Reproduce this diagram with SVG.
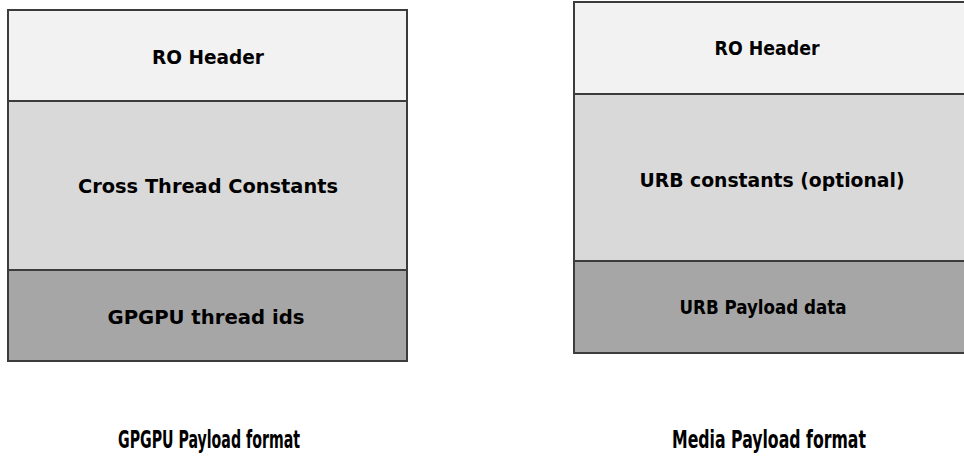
<svg xmlns="http://www.w3.org/2000/svg" width="964" height="458" viewBox="0 0 964 458">
<style>
.box{stroke:#3c3c3c;stroke-width:2}
.l1{fill:#f2f2f2}.l2{fill:#d9d9d9}.l3{fill:#a6a6a6}
.t{font-family:"DejaVu Sans Condensed","Liberation Sans",sans-serif;font-weight:bold;font-size:20px;fill:#000;text-anchor:middle}
.cap{font-family:"DejaVu Sans Condensed","Liberation Sans",sans-serif;font-weight:bold;font-size:24px;fill:#000;text-anchor:middle}
</style>
<g id="gpgpu">
<rect class="box l1" x="8" y="10" width="399" height="91"/>
<rect class="box l2" x="8" y="101" width="399" height="169"/>
<rect class="box l3" x="8" y="270" width="399" height="91"/>
<text class="t" x="208" y="64" textLength="112" lengthAdjust="spacingAndGlyphs">RO Header</text>
<text class="t" x="208" y="193" textLength="260" lengthAdjust="spacingAndGlyphs">Cross Thread Constants</text>
<text class="t" x="206" y="324" textLength="197" lengthAdjust="spacingAndGlyphs">GPGPU thread ids</text>
</g>
<g id="media">
<rect class="box l1" x="574" y="2" width="400" height="92"/>
<rect class="box l2" x="574" y="94" width="400" height="167"/>
<rect class="box l3" x="574" y="261" width="400" height="92"/>
<text class="t" x="767" y="55" textLength="105" lengthAdjust="spacingAndGlyphs">RO Header</text>
<text class="t" x="772" y="187" textLength="265" lengthAdjust="spacingAndGlyphs">URB constants (optional)</text>
<text class="t" x="763" y="314" textLength="167" lengthAdjust="spacingAndGlyphs">URB Payload data</text>
</g>
<g id="connectors"></g>
<text class="cap" x="209" y="448" textLength="182" lengthAdjust="spacingAndGlyphs">GPGPU Payload format</text>
<text class="cap" x="769" y="448" textLength="194" lengthAdjust="spacingAndGlyphs">Media Payload format</text>
</svg>
